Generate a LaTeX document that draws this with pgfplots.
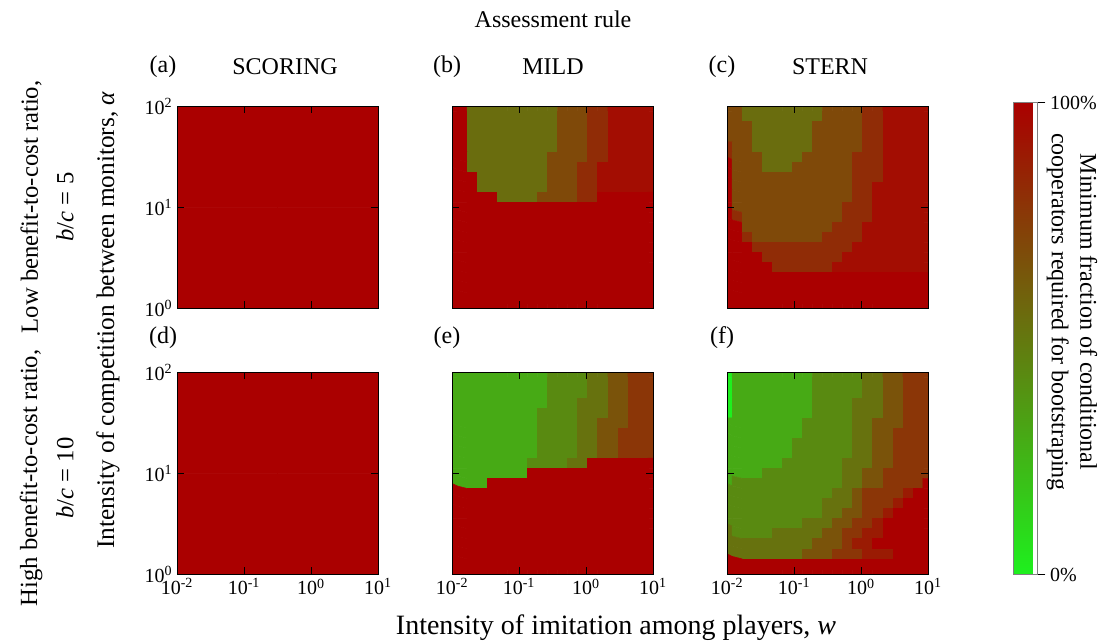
\documentclass[border=0pt]{standalone}
\usepackage{fontspec}
\setmainfont{Liberation Serif}
\usepackage{pgfplots}
\usepackage{pgfplotstable}
\pgfplotsset{compat=1.18}

% panel (b) MILD, low b/c : rows from top (alpha=10^2) to bottom (alpha=10^0), 21 columns each
\pgfplotstableread[row sep=\\]{
v\\
1\\1\\.54\\.54\\.54\\.54\\.54\\.54\\.54\\.54\\.54\\.69\\.69\\.69\\.81\\.81\\.94\\.94\\.94\\.94\\.94\\
1\\1\\.54\\.54\\.54\\.54\\.54\\.54\\.54\\.54\\.54\\.69\\.69\\.69\\.81\\.81\\.94\\.94\\.94\\.94\\.94\\
1\\1\\.54\\.54\\.54\\.54\\.54\\.54\\.54\\.54\\.54\\.69\\.69\\.69\\.81\\.81\\.94\\.94\\.94\\.94\\.94\\
1\\1\\.54\\.54\\.54\\.54\\.54\\.54\\.54\\.54\\.54\\.69\\.69\\.69\\.81\\.81\\.94\\.94\\.94\\.94\\.94\\
1\\1\\.54\\.54\\.54\\.54\\.54\\.54\\.54\\.54\\.54\\.69\\.69\\.69\\.81\\.81\\.94\\.94\\.94\\.94\\.94\\
1\\1\\.54\\.54\\.54\\.54\\.54\\.54\\.54\\.54\\.69\\.69\\.69\\.69\\.81\\.81\\.94\\.94\\.94\\.94\\.94\\
1\\1\\.54\\.54\\.54\\.54\\.54\\.54\\.54\\.54\\.69\\.69\\.69\\.81\\.81\\.94\\.94\\.94\\.94\\.94\\.94\\
1\\1\\1\\.54\\.54\\.54\\.54\\.54\\.54\\.54\\.69\\.69\\.69\\.81\\.81\\.94\\.94\\.94\\.94\\.94\\.94\\
1\\1\\1\\.54\\.54\\.54\\.54\\.54\\.54\\.54\\.69\\.69\\.69\\.81\\.81\\.94\\.94\\.94\\.94\\.94\\.94\\
1\\1\\1\\1\\1\\.54\\.54\\.54\\.54\\.69\\.69\\.69\\.69\\.81\\.81\\1\\1\\1\\1\\1\\1\\
1\\1\\1\\1\\1\\1\\1\\1\\1\\1\\1\\1\\1\\1\\1\\1\\1\\1\\1\\1\\1\\
1\\1\\1\\1\\1\\1\\1\\1\\1\\1\\1\\1\\1\\1\\1\\1\\1\\1\\1\\1\\1\\
1\\1\\1\\1\\1\\1\\1\\1\\1\\1\\1\\1\\1\\1\\1\\1\\1\\1\\1\\1\\1\\
1\\1\\1\\1\\1\\1\\1\\1\\1\\1\\1\\1\\1\\1\\1\\1\\1\\1\\1\\1\\1\\
1\\1\\1\\1\\1\\1\\1\\1\\1\\1\\1\\1\\1\\1\\1\\1\\1\\1\\1\\1\\1\\
1\\1\\1\\1\\1\\1\\1\\1\\1\\1\\1\\1\\1\\1\\1\\1\\1\\1\\1\\1\\1\\
1\\1\\1\\1\\1\\1\\1\\1\\1\\1\\1\\1\\1\\1\\1\\1\\1\\1\\1\\1\\1\\
1\\1\\1\\1\\1\\1\\1\\1\\1\\1\\1\\1\\1\\1\\1\\1\\1\\1\\1\\1\\1\\
1\\1\\1\\1\\1\\1\\1\\1\\1\\1\\1\\1\\1\\1\\1\\1\\1\\1\\1\\1\\1\\
1\\1\\1\\1\\1\\1\\1\\1\\1\\1\\1\\1\\1\\1\\1\\1\\1\\1\\1\\1\\1\\
1\\1\\1\\1\\1\\1\\1\\1\\1\\1\\1\\1\\1\\1\\1\\1\\1\\1\\1\\1\\1\\
}\tabB

% panel (c) STERN, low b/c
\pgfplotstableread[row sep=\\]{
v\\
.69\\.69\\.54\\.54\\.54\\.54\\.54\\.54\\.54\\.54\\.69\\.69\\.69\\.69\\.81\\.81\\.94\\.94\\.94\\.94\\.94\\
.69\\.69\\.54\\.54\\.54\\.54\\.54\\.54\\.54\\.54\\.69\\.69\\.69\\.69\\.81\\.81\\.94\\.94\\.94\\.94\\.94\\
.69\\.69\\.69\\.54\\.54\\.54\\.54\\.54\\.54\\.69\\.69\\.69\\.69\\.69\\.81\\.81\\.94\\.94\\.94\\.94\\.94\\
.69\\.69\\.69\\.54\\.54\\.54\\.54\\.54\\.54\\.69\\.69\\.69\\.69\\.69\\.81\\.81\\.94\\.94\\.94\\.94\\.94\\
.81\\.69\\.69\\.54\\.54\\.54\\.54\\.54\\.54\\.69\\.69\\.69\\.69\\.69\\.81\\.81\\.94\\.94\\.94\\.94\\.94\\
.81\\.69\\.69\\.69\\.54\\.54\\.54\\.54\\.69\\.69\\.69\\.69\\.69\\.81\\.81\\.81\\.94\\.94\\.94\\.94\\.94\\
1\\.69\\.69\\.69\\.54\\.54\\.54\\.69\\.69\\.69\\.69\\.69\\.69\\.81\\.81\\.81\\.94\\.94\\.94\\.94\\.94\\
1\\.69\\.69\\.69\\.69\\.69\\.69\\.69\\.69\\.69\\.69\\.69\\.69\\.81\\.81\\.81\\.94\\.94\\.94\\.94\\.94\\
1\\.69\\.69\\.69\\.69\\.69\\.69\\.69\\.69\\.69\\.69\\.69\\.69\\.81\\.81\\.94\\.94\\.94\\.94\\.94\\.94\\
1\\.69\\.69\\.69\\.69\\.69\\.69\\.69\\.69\\.69\\.69\\.69\\.69\\.81\\.81\\.94\\.94\\.94\\.94\\.94\\.94\\
1\\.69\\.69\\.69\\.69\\.69\\.69\\.69\\.69\\.69\\.69\\.69\\.81\\.81\\.81\\.94\\.94\\.94\\.94\\.94\\.94\\
1\\.81\\.69\\.69\\.69\\.69\\.69\\.69\\.69\\.69\\.69\\.69\\.81\\.81\\.81\\.94\\.94\\.94\\.94\\.94\\.94\\
1\\1\\.69\\.69\\.69\\.69\\.69\\.69\\.69\\.69\\.69\\.81\\.81\\.81\\.94\\.94\\.94\\.94\\.94\\.94\\.94\\
1\\1\\.81\\.69\\.69\\.69\\.69\\.69\\.69\\.69\\.81\\.81\\.81\\.81\\.94\\.94\\.94\\.94\\.94\\.94\\.94\\
1\\1\\1\\.81\\.81\\.81\\.81\\.81\\.81\\.81\\.81\\.81\\.81\\.94\\.94\\.94\\.94\\.94\\.94\\.94\\.94\\
1\\1\\1\\1\\.81\\.81\\.81\\.81\\.81\\.81\\.81\\.81\\.94\\.94\\.94\\.94\\.94\\.94\\.94\\.94\\.94\\
1\\1\\1\\1\\1\\.81\\.81\\.81\\.81\\.81\\.81\\.94\\.94\\.94\\.94\\.94\\.94\\.94\\.94\\.94\\.94\\
1\\1\\1\\1\\1\\1\\1\\1\\1\\1\\1\\1\\1\\1\\1\\1\\1\\1\\1\\1\\1\\
1\\1\\1\\1\\1\\1\\1\\1\\1\\1\\1\\1\\1\\1\\1\\1\\1\\1\\1\\1\\1\\
1\\1\\1\\1\\1\\1\\1\\1\\1\\1\\1\\1\\1\\1\\1\\1\\1\\1\\1\\1\\1\\
1\\1\\1\\1\\1\\1\\1\\1\\1\\1\\1\\1\\1\\1\\1\\1\\1\\1\\1\\1\\1\\
}\tabC

% panel (e) MILD, high b/c
\pgfplotstableread[row sep=\\]{
v\\
.29\\.29\\.29\\.29\\.29\\.29\\.29\\.29\\.29\\.29\\.42\\.42\\.42\\.42\\.52\\.52\\.65\\.65\\.77\\.77\\.77\\
.29\\.29\\.29\\.29\\.29\\.29\\.29\\.29\\.29\\.29\\.42\\.42\\.42\\.42\\.52\\.52\\.65\\.65\\.77\\.77\\.77\\
.29\\.29\\.29\\.29\\.29\\.29\\.29\\.29\\.29\\.29\\.42\\.42\\.42\\.42\\.52\\.52\\.65\\.65\\.77\\.77\\.77\\
.29\\.29\\.29\\.29\\.29\\.29\\.29\\.29\\.29\\.29\\.42\\.42\\.42\\.52\\.52\\.52\\.65\\.65\\.77\\.77\\.77\\
.29\\.29\\.29\\.29\\.29\\.29\\.29\\.29\\.29\\.42\\.42\\.42\\.42\\.52\\.52\\.52\\.65\\.65\\.77\\.77\\.77\\
.29\\.29\\.29\\.29\\.29\\.29\\.29\\.29\\.29\\.42\\.42\\.42\\.42\\.52\\.52\\.65\\.65\\.65\\.77\\.77\\.77\\
.29\\.29\\.29\\.29\\.29\\.29\\.29\\.29\\.29\\.42\\.42\\.42\\.42\\.52\\.52\\.65\\.65\\.77\\.77\\.77\\.77\\
.29\\.29\\.29\\.29\\.29\\.29\\.29\\.29\\.29\\.42\\.42\\.42\\.42\\.52\\.52\\.65\\.65\\.77\\.77\\.77\\.77\\
.29\\.29\\.29\\.29\\.29\\.29\\.29\\.29\\.29\\.42\\.42\\.42\\.42\\.52\\.52\\.65\\.65\\.77\\.77\\.77\\.77\\
.29\\.29\\.29\\.29\\.29\\.29\\.29\\.29\\.42\\.42\\.42\\.42\\.52\\.52\\1\\1\\1\\1\\1\\1\\1\\
.29\\.29\\.29\\.29\\.29\\.29\\.29\\.29\\1\\1\\1\\1\\1\\1\\1\\1\\1\\1\\1\\1\\1\\
.29\\.29\\.29\\.29\\1\\1\\1\\1\\1\\1\\1\\1\\1\\1\\1\\1\\1\\1\\1\\1\\1\\
1\\1\\1\\1\\1\\1\\1\\1\\1\\1\\1\\1\\1\\1\\1\\1\\1\\1\\1\\1\\1\\
1\\1\\1\\1\\1\\1\\1\\1\\1\\1\\1\\1\\1\\1\\1\\1\\1\\1\\1\\1\\1\\
1\\1\\1\\1\\1\\1\\1\\1\\1\\1\\1\\1\\1\\1\\1\\1\\1\\1\\1\\1\\1\\
1\\1\\1\\1\\1\\1\\1\\1\\1\\1\\1\\1\\1\\1\\1\\1\\1\\1\\1\\1\\1\\
1\\1\\1\\1\\1\\1\\1\\1\\1\\1\\1\\1\\1\\1\\1\\1\\1\\1\\1\\1\\1\\
1\\1\\1\\1\\1\\1\\1\\1\\1\\1\\1\\1\\1\\1\\1\\1\\1\\1\\1\\1\\1\\
1\\1\\1\\1\\1\\1\\1\\1\\1\\1\\1\\1\\1\\1\\1\\1\\1\\1\\1\\1\\1\\
1\\1\\1\\1\\1\\1\\1\\1\\1\\1\\1\\1\\1\\1\\1\\1\\1\\1\\1\\1\\1\\
1\\1\\1\\1\\1\\1\\1\\1\\1\\1\\1\\1\\1\\1\\1\\1\\1\\1\\1\\1\\1\\
}\tabE

% panel (f) STERN, high b/c
\pgfplotstableread[row sep=\\]{
v\\
0\\.29\\.29\\.29\\.29\\.29\\.29\\.29\\.29\\.42\\.42\\.42\\.42\\.42\\.52\\.52\\.65\\.65\\.77\\.77\\.77\\
0\\.29\\.29\\.29\\.29\\.29\\.29\\.29\\.29\\.42\\.42\\.42\\.42\\.42\\.52\\.52\\.65\\.65\\.77\\.77\\.77\\
0\\.29\\.29\\.29\\.29\\.29\\.29\\.29\\.29\\.42\\.42\\.42\\.42\\.42\\.52\\.52\\.65\\.65\\.77\\.77\\.77\\
0\\.29\\.29\\.29\\.29\\.29\\.29\\.29\\.29\\.42\\.42\\.42\\.42\\.52\\.52\\.52\\.65\\.65\\.77\\.77\\.77\\
0\\.29\\.29\\.29\\.29\\.29\\.29\\.29\\.29\\.42\\.42\\.42\\.42\\.52\\.52\\.52\\.65\\.65\\.77\\.77\\.77\\
.29\\.29\\.29\\.29\\.29\\.29\\.29\\.29\\.42\\.42\\.42\\.42\\.42\\.52\\.52\\.65\\.65\\.65\\.77\\.77\\.77\\
.29\\.29\\.29\\.29\\.29\\.29\\.29\\.29\\.42\\.42\\.42\\.42\\.42\\.52\\.52\\.65\\.65\\.77\\.77\\.77\\.77\\
.29\\.29\\.29\\.29\\.29\\.29\\.29\\.42\\.42\\.42\\.42\\.42\\.42\\.52\\.52\\.65\\.65\\.77\\.77\\.77\\.77\\
.29\\.29\\.29\\.29\\.29\\.29\\.29\\.42\\.42\\.42\\.42\\.42\\.42\\.52\\.52\\.65\\.65\\.77\\.77\\.77\\.77\\
.29\\.29\\.29\\.29\\.29\\.29\\.42\\.42\\.42\\.42\\.42\\.42\\.52\\.52\\.52\\.65\\.65\\.77\\.77\\.77\\.77\\
.29\\.29\\.29\\.29\\.42\\.42\\.42\\.42\\.42\\.42\\.42\\.42\\.52\\.52\\.65\\.65\\.77\\.77\\.77\\.77\\.77\\
.29\\.42\\.42\\.42\\.42\\.42\\.42\\.42\\.42\\.42\\.42\\.42\\.52\\.52\\.65\\.65\\.77\\.77\\.77\\.77\\1\\
.42\\.42\\.42\\.42\\.42\\.42\\.42\\.42\\.42\\.42\\.42\\.52\\.52\\.65\\.77\\.77\\.77\\.77\\.88\\1\\1\\
.42\\.42\\.42\\.42\\.42\\.42\\.42\\.42\\.42\\.42\\.52\\.52\\.52\\.65\\.77\\.77\\.77\\.88\\1\\1\\1\\
.42\\.42\\.42\\.42\\.42\\.42\\.42\\.42\\.42\\.42\\.52\\.52\\.65\\.65\\.77\\.77\\.88\\1\\1\\1\\1\\
.42\\.42\\.42\\.42\\.42\\.42\\.42\\.42\\.52\\.52\\.52\\.65\\.65\\.77\\.77\\.88\\1\\1\\1\\1\\1\\
.52\\.42\\.42\\.42\\.42\\.52\\.52\\.52\\.52\\.52\\.65\\.65\\.77\\.77\\.88\\.88\\1\\1\\1\\1\\1\\
.52\\.52\\.52\\.52\\.52\\.52\\.52\\.52\\.52\\.65\\.65\\.65\\.77\\.88\\.88\\1\\1\\1\\1\\1\\1\\
.52\\.52\\.52\\.52\\.52\\.52\\.52\\.52\\.65\\.65\\.65\\.77\\.77\\.77\\.88\\.88\\.88\\1\\1\\1\\1\\
1\\1\\1\\1\\1\\1\\1\\1\\1\\1\\1\\1\\1\\1\\1\\1\\1\\1\\1\\1\\1\\
1\\1\\1\\1\\1\\1\\1\\1\\1\\1\\1\\1\\1\\1\\1\\1\\1\\1\\1\\1\\1\\
}\tabF

\newcommand{\lbl}{\fontsize{18}{21}\selectfont}
\newcommand{\albl}{\fontsize{19}{22}\selectfont}
\newcommand{\rlbl}{\fontsize{18.5}{22}\selectfont}
\newcommand{\xlbl}{\fontsize{21}{24}\selectfont}
\newcommand{\cblbl}{\fontsize{18}{21.5}\selectfont}
\newcommand{\tkl}{\fontsize{15}{15}\selectfont}

\pgfplotsset{
  panel/.style={
    anchor=south west, scale only axis, width=150.75pt, height=151pt,
    xmin=-2, xmax=1, ymin=0, ymax=2,
    xtick={-2,-1,0,1}, ytick={0,1,2},
    xticklabels={10\textsuperscript{-2},10\textsuperscript{-1},10\textsuperscript{0},10\textsuperscript{1}},
    yticklabels={10\textsuperscript{0},10\textsuperscript{1},10\textsuperscript{2}},
    tick align=inside, major tick length=5pt,
    tick style={black, line width=0.6pt},
    axis line style={black, line width=0.6pt},
    colormap={gr}{rgb255(0cm)=(30,240,30); rgb255(1cm)=(170,0,0)},
    point meta min=0, point meta max=1,
    axis on top,
    ticklabel style={font=\tkl},
  },
  noxl/.style={xticklabels={}},
  noyl/.style={yticklabels={}},
  heat/.style={matrix plot*, mesh/cols=21, point meta=explicit},
}

\begin{document}
\begin{tikzpicture}
\path[use as bounding box] (0,0) rectangle (828pt,481.5pt);

% (a)
\begin{axis}[panel, noxl, at={(132.75pt,250.5pt)}]
\addplot[matrix plot*, mesh/cols=2, point meta=explicit] coordinates {(-1.25,0.5)[1] (0.25,0.5)[1] (-1.25,1.5)[1] (0.25,1.5)[1]};
\end{axis}
% (b)
\begin{axis}[panel, noxl, noyl, at={(339pt,250.5pt)}]
\addplot[heat] table[x index=0, y index=0, x expr={-2+0.15*mod(\coordindex,21)}, y expr={2-0.1*floor(\coordindex/21)}, meta=v] {\tabB};
\end{axis}
% (c)
\begin{axis}[panel, noxl, noyl, at={(545.25pt,250.5pt)},
  colorbar,
  colorbar style={
    at={(parent axis.north east)}, anchor=north west, xshift=55.5pt, yshift=3pt,
    scale only axis, width=18pt, height=354pt,
    ytick={0,1}, yticklabels={0\%,100\%},
    yticklabel pos=right, ytick pos=right, tick align=outside, major tick length=6pt,
    tick style={black, line width=0.5pt},
    axis line style={line width=0.4pt, gray},
    yticklabel style={font=\tkl},
  }]
\addplot[heat] table[x index=0, y index=0, x expr={-2+0.15*mod(\coordindex,21)}, y expr={2-0.1*floor(\coordindex/21)}, meta=v] {\tabC};
\end{axis}
% (d)
\begin{axis}[panel, at={(132.75pt,51pt)}]
\addplot[matrix plot*, mesh/cols=2, point meta=explicit] coordinates {(-1.25,0.5)[1] (0.25,0.5)[1] (-1.25,1.5)[1] (0.25,1.5)[1]};
\end{axis}
% (e)
\begin{axis}[panel, noyl, at={(339pt,51pt)}]
\addplot[heat] table[x index=0, y index=0, x expr={-2+0.15*mod(\coordindex,21)}, y expr={2-0.1*floor(\coordindex/21)}, meta=v] {\tabE};
\end{axis}
% (f)
\begin{axis}[panel, noyl, at={(545.25pt,51pt)}]
\addplot[heat] table[x index=0, y index=0, x expr={-2+0.15*mod(\coordindex,21)}, y expr={2-0.1*floor(\coordindex/21)}, meta=v] {\tabF};
\end{axis}

% texts
\node[font=\lbl] at (414.75pt,467.25pt) {Assessment rule};
\node[font=\lbl] at (122.25pt,431.25pt) {(a)};
\node[font=\lbl] at (213.75pt,431.25pt) {SCORING};
\node[font=\lbl] at (335.25pt,431.25pt) {(b)};
\node[font=\lbl] at (414.75pt,431.25pt) {MILD};
\node[font=\lbl] at (541.5pt,431.25pt) {(c)};
\node[font=\lbl] at (622.5pt,431.25pt) {STERN};
\node[font=\lbl] at (122.25pt,228pt) {(d)};
\node[font=\lbl] at (335.25pt,228pt) {(e)};
\node[font=\lbl] at (541.5pt,228pt) {(f)};

\node[font=\albl, rotate=90] at (81pt,241.5pt) {Intensity of competition between monitors, \textit{α}};
\node[font=\xlbl] at (462pt,10.5pt) {Intensity of imitation among players, \textit{w}};

\node[font=\rlbl, rotate=90] at (23.25pt,326.25pt) {Low benefit-to-cost ratio,};
\node[font=\rlbl, rotate=90] at (48.75pt,326.25pt) {\textit{b}/\textit{c} = 5};
\node[font=\rlbl, rotate=90] at (23.25pt,123pt) {High benefit-to-cost ratio,};
\node[font=\rlbl, rotate=90] at (48.75pt,123pt) {\textit{b}/\textit{c} = 10};

\node[font=\cblbl, rotate=-90, align=center] at (804pt,247.5pt) {Minimum fraction of conditional\\cooperators required for bootstraping};
\end{tikzpicture}
\end{document}
